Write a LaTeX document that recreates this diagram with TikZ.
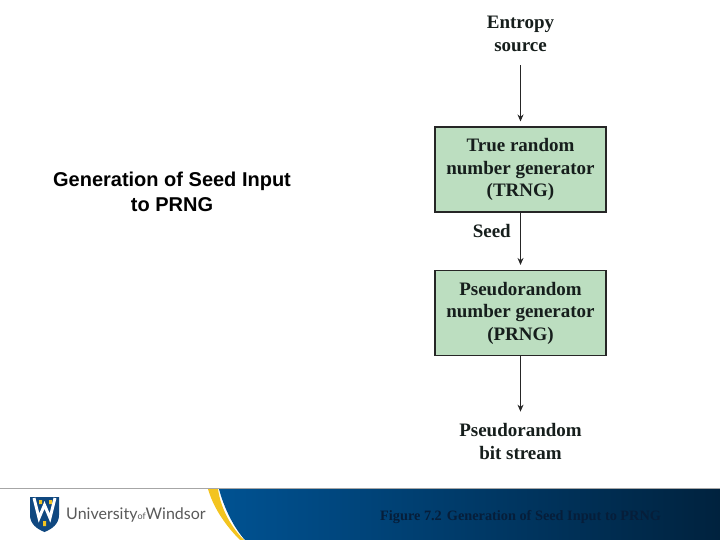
\documentclass[tikz,border=0pt]{standalone}
\usepackage{fontspec}
\setmainfont{Liberation Serif}
\newfontfamily\headfont{Liberation Sans}
\newfontfamily\logofont{Lato}
\usetikzlibrary{arrows.meta}
\definecolor{boxgreen}{RGB}{188,222,192}
\definecolor{inktext}{RGB}{22,30,28}
\definecolor{barblue}{RGB}{0,82,146}
\definecolor{bardark}{RGB}{0,34,62}
\definecolor{capdark}{RGB}{6,30,58}
\definecolor{crestblue}{RGB}{16,72,128}
\definecolor{crestgold}{RGB}{243,196,32}
\begin{document}
\begin{tikzpicture}[x=1pt, y=-1pt,
                blk/.style={draw=black!85, line width=1.1pt, fill=boxgreen,
                            minimum width=171pt, minimum height=85pt, inner sep=0pt,
                            align=center, text=inktext,
                            font=\fontsize{19}{22.5}\selectfont\bfseries},
                lbl/.style={align=center, text=inktext, inner sep=0pt,
                            font=\fontsize{19}{23}\selectfont\bfseries},
                arr/.style={-{Stealth[length=7pt,width=6pt]}, line width=1pt, black!85,
                            shorten >=5pt}]
                \useasboundingbox (0,0) rectangle (720,540);
                \node[lbl] (src) at (520.5,34) {Entropy\\source};
                \node[blk] (trng) at (520.5,169.5) {True random\\number generator\\(TRNG)};
                \node[blk] (prng) at (520.5,313) {Pseudorandom\\number generator\\(PRNG)};
                \node[lbl] (out) at (520.5,441) {Pseudorandom\\bit stream};
                \node[lbl, anchor=east] (seed) at (511,231) {Seed};
                \node[align=center, inner sep=0pt, font=\headfont\fontsize{20}{24.5}\selectfont\bfseries] (title) at (172,192)
                    {Generation of Seed Input\\to PRNG};
                \draw[arr, shorten <=13pt] (src) -- (trng);
                \draw[arr] (trng) -- (prng);
                \draw[arr, shorten >=11pt] (prng) -- (out);
                % footer
                \fill[black!35] (0,487.5) rectangle (720,489);
                \fill[crestgold] (208,489) .. controls (214,510) and (228,528) .. (240,540)
                    -- (244,540) .. controls (232,528) and (221,510) .. (218,489) -- cycle;
                \shade[left color=barblue, right color=bardark]
                    (219,489) .. controls (224,508) and (234,528) .. (245,540)
                    -- (720,540) -- (720,489) -- cycle;
                \node[anchor=west, inner sep=0pt, text=capdark,
                      font=\fontsize{14.3}{16}\selectfont\bfseries] (cap) at (380,517)
                    {Figure 7.2\hspace{5pt}Generation of Seed Input to PRNG};
                % crest
                \fill[crestblue] (30,497) -- (59,497) -- (59,515) .. controls (59,524) and (52,529) .. (44.5,532)
                    .. controls (37,529) and (30,524) .. (30,515) -- cycle;
                \draw[white, line width=3pt] (34,498) -- (39,518) -- (44.5,505) -- (50,518) -- (55,498);
                \fill[crestgold] (39,500) rectangle (42,504) (49,500) rectangle (52,504) (43,521) rectangle (46,526);
                \node[anchor=west, inner sep=0pt, text=black!65] (logo) at (66,515)
                    {\logofont\fontsize{16}{18}\selectfont University{\fontsize{9}{10}\selectfont of}Windsor};
\end{tikzpicture}
\end{document}
